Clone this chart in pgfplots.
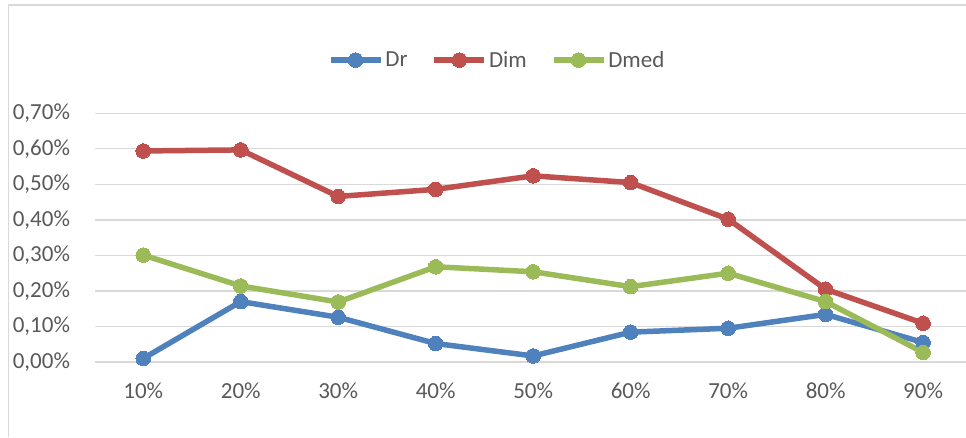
\documentclass[border=0pt]{standalone}
\usepackage{pgfplots}
\pgfplotsset{compat=1.18}
\usepackage{fontspec}
\setmainfont{Carlito}

\definecolor{txtgray}{HTML}{595959}
\definecolor{gridgray}{HTML}{D9D9D9}
\definecolor{framegray}{HTML}{D9D9D9}
\definecolor{cDr}{HTML}{4F81BD}
\definecolor{cDim}{HTML}{C0504D}
\definecolor{cDmed}{HTML}{9BBB59}

\begin{document}
\begin{tikzpicture}[x=1pt,y=1pt]
\path[use as bounding box] (0,0) rectangle (966,437);
% chart frame (top and left edges)
\draw[framegray, line width=1.5pt] (8.3,0) -- (8.3,432) -- (966,432);
\begin{axis}[
  at={(94.5pt,75pt)}, anchor=south west,
  scale only axis,
  width=871.5pt, height=248.7pt,
  xmin=0.5, xmax=9.44,
  ymin=0, ymax=0.7,
  axis line style={draw=none},
  major tick style={draw=none},
  ymajorgrids,
  grid style={gridgray, line width=1.3pt},
  xtick={1,...,9},
  xticklabels={10\%,20\%,30\%,40\%,50\%,60\%,70\%,80\%,90\%},
  ytick={0,0.1,0.2,0.3,0.4,0.5,0.6,0.7},
  yticklabels={{0,00\%},{0,10\%},{0,20\%},{0,30\%},{0,40\%},{0,50\%},{0,60\%},{0,70\%}},
  ticklabel style={font=\fontsize{23}{26}\selectfont, text=txtgray},
  yticklabel style={xshift=-21pt},
  xticklabel style={yshift=-17pt},
  clip=false,
  legend columns=3,
  legend style={
    at={(axis description cs:0.462,1.214)}, anchor=center,
    draw=none, fill=none,
    font=\fontsize{23}{26}\selectfont, text=txtgray,
    /tikz/every even column/.append style={column sep=22pt},
  },
  legend image code/.code={
    \draw[mark repeat=2, mark phase=2] plot coordinates {(0pt,0pt) (25pt,0pt) (50pt,0pt)};
  },
  every axis plot/.append style={line width=5.5pt, mark=*, mark size=7.3pt, line join=round},
]
\addplot[cDr, mark options={fill=cDr, draw=cDr, line width=0pt}] coordinates {
  (1,0.010) (2,0.170) (3,0.126) (4,0.052) (5,0.017) (6,0.084) (7,0.095) (8,0.134) (9,0.055)
};
\addlegendentry{Dr}
\addplot[cDim, mark options={fill=cDim, draw=cDim, line width=0pt}] coordinates {
  (1,0.594) (2,0.597) (3,0.466) (4,0.486) (5,0.524) (6,0.505) (7,0.402) (8,0.205) (9,0.109)
};
\addlegendentry{Dim}
\addplot[cDmed, mark options={fill=cDmed, draw=cDmed, line width=0pt}] coordinates {
  (1,0.301) (2,0.214) (3,0.169) (4,0.268) (5,0.254) (6,0.212) (7,0.250) (8,0.170) (9,0.027)
};
\addlegendentry{Dmed}
\end{axis}
\end{tikzpicture}
\end{document}
